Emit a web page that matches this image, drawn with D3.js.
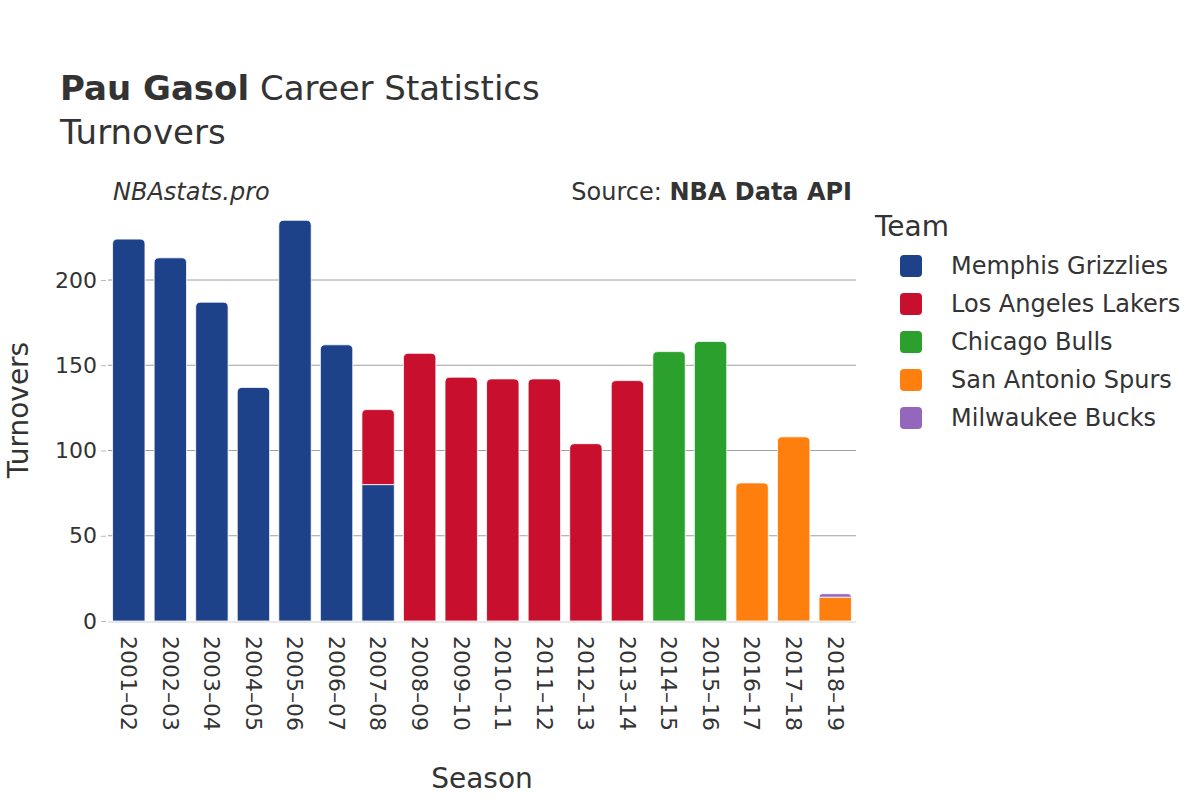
<!DOCTYPE html>
<html>
<head>
<meta charset="utf-8">
<script src="https://cdn.jsdelivr.net/npm/d3@7"></script>
<style>
  body { margin: 0; background: #fff; }
  svg { font-family: "DejaVu Sans", sans-serif; }
</style>
</head>
<body>
<svg id="chart" width="1200" height="800"></svg>
<script>
const seasons = ["2001–02","2002–03","2003–04","2004–05","2005–06","2006–07","2007–08","2008–09","2009–10","2010–11","2011–12","2012–13","2013–14","2014–15","2015–16","2016–17","2017–18","2018–19"];
const teams = ["Memphis Grizzlies","Los Angeles Lakers","Chicago Bulls","San Antonio Spurs","Milwaukee Bucks"];
const teamColors = ["#1d428a","#c8102e","#2ca02c","#ff7f0e","#9467bd"];
const memphis = [224,213,187,137,235,162,80,0,0,0,0,0,0,0,0,0,0,0];
const lakers  = [0,0,0,0,0,0,44,157,143,142,142,104,141,0,0,0,0,0];
const bulls   = [0,0,0,0,0,0,0,0,0,0,0,0,0,158,164,0,0,0];
const spurs   = [0,0,0,0,0,0,0,0,0,0,0,0,0,0,0,81,108,14];
const bucks   = [0,0,0,0,0,0,0,0,0,0,0,0,0,0,0,0,0,2];
const yTicks = [0,50,100,150,200];

const seriesValues = [memphis, lakers, bulls, spurs, bucks];
const table = seasons.map((s,i) => {
  const row = {season: s};
  teams.forEach((t,j) => row[t] = seriesValues[j][i]);
  return row;
});

const svg = d3.select("#chart");
const margin = {left: 108, right: 856};
const x = d3.scaleBand().domain(seasons).range([margin.left, margin.right]).paddingInner(0.22).paddingOuter(0.11);
const y = d3.scaleLinear().domain([0, 200]).range([621, 280]);

// gridlines
svg.append("g").selectAll("line").data(yTicks.filter(d => d > 0)).join("line")
  .attr("x1", margin.left).attr("x2", margin.right)
  .attr("y1", d => y(d)).attr("y2", d => y(d))
  .attr("stroke", "#a0a0a0").attr("stroke-width", 1);

// stacked bars
const stack = d3.stack().keys(teams)(table);
const r = 5;
function barPath(x0, w, yTop, yBot, rounded) {
  const h = yBot - yTop;
  if (!rounded || h < 2) return `M${x0},${yBot}V${yTop}H${x0+w}V${yBot}Z`;
  const rr = Math.min(r, h, w/2);
  return `M${x0},${yBot}V${yTop+rr}Q${x0},${yTop} ${x0+rr},${yTop}H${x0+w-rr}Q${x0+w},${yTop} ${x0+w},${yTop+rr}V${yBot}Z`;
}
const topIdx = seasons.map((s,i) => {
  let t = -1; teams.forEach((tm,j) => { if (seriesValues[j][i] > 0) t = j; }); return t;
});
stack.forEach((layer, j) => {
  svg.append("g").selectAll("path").data(layer.map((d,i) => ({d, i}))).join("path")
    .filter(o => o.d[1] - o.d[0] > 0)
    .attr("d", o => barPath(x(seasons[o.i]), x.bandwidth(), y(o.d[1]), y(o.d[0]), topIdx[o.i] === j))
    .attr("fill", teamColors[j])
    .attr("stroke", "#fff").attr("stroke-width", 0.8);
});

// zero line
svg.append("line").attr("x1", margin.left).attr("x2", margin.right)
  .attr("y1", y(0)+1).attr("y2", y(0)+1).attr("stroke", "#e8e8e8").attr("stroke-width", 2);

// y axis
const yAxis = svg.append("g").attr("transform", `translate(${margin.left-2},0)`)
  .call(d3.axisLeft(y).tickValues(yTicks).tickSize(5).tickPadding(4));
yAxis.select(".domain").remove();
yAxis.selectAll(".tick line").attr("stroke", "#bbb");
yAxis.selectAll("text").attr("font-size", 22).attr("fill", "#333").attr("font-family", "DejaVu Sans");

// x axis labels
const xAxis = svg.append("g").attr("transform", `translate(0,${y(0)+4})`)
  .call(d3.axisBottom(x).tickSize(0).tickPadding(0));
xAxis.select(".domain").remove();
xAxis.selectAll("text")
  .attr("font-size", 22).attr("fill", "#333").attr("font-family", "DejaVu Sans")
  .attr("text-anchor", "start").attr("dy", "0.35em")
  .attr("transform", "translate(0,11) rotate(90)").attr("y", 0).attr("x", 0);

// titles
const title = svg.append("text").attr("x", 60).attr("y", 100).attr("font-size", 34).attr("fill", "#333");
title.append("tspan").attr("font-weight", "bold").text("Pau Gasol");
title.append("tspan").text(" Career Statistics");
svg.append("text").attr("x", 60).attr("y", 144).attr("font-size", 34).attr("fill", "#333").text("Turnovers");

svg.append("text").attr("x", 113).attr("y", 200).attr("font-size", 24).attr("font-style", "italic").attr("fill", "#333").text("NBAstats.pro");
const src = svg.append("text").attr("x", 852).attr("y", 200).attr("font-size", 24).attr("fill", "#333").attr("text-anchor", "end");
src.append("tspan").text("Source: ");
src.append("tspan").attr("font-weight", "bold").text("NBA Data API");

svg.append("text").attr("transform", "translate(28,410) rotate(-90)").attr("text-anchor", "middle")
  .attr("font-size", 28).attr("fill", "#333").text("Turnovers");
svg.append("text").attr("x", 482).attr("y", 788).attr("text-anchor", "middle")
  .attr("font-size", 28).attr("fill", "#333").text("Season");

// legend
svg.append("text").attr("x", 875).attr("y", 236).attr("font-size", 28).attr("fill", "#333").text("Team");
const leg = svg.append("g").selectAll("g").data(teams).join("g")
  .attr("transform", (d,i) => `translate(0,${266 + i*38})`);
leg.append("rect").attr("x", 900).attr("y", -11).attr("width", 22).attr("height", 22).attr("rx", 4)
  .attr("fill", (d,i) => teamColors[i]);
leg.append("text").attr("x", 951).attr("y", 8).attr("font-size", 24).attr("fill", "#333").text(d => d);
</script>
</body>
</html>
